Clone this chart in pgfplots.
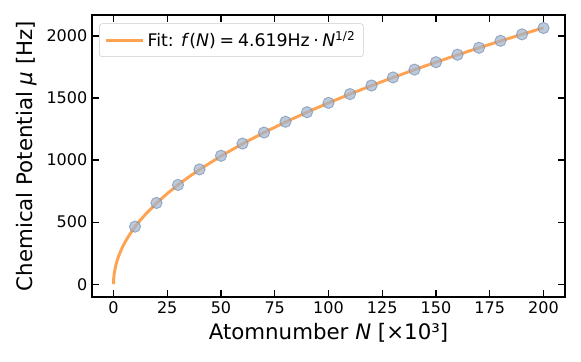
\documentclass[border=0pt]{standalone}
\usepackage{fontspec}
\setmainfont{DejaVu Sans}
\usepackage{pgfplots}
\pgfplotsset{compat=1.18}
\definecolor{fitorange}{RGB}{255,163,82}
\definecolor{ptfill}{RGB}{160,180,206}
\definecolor{ptedge}{RGB}{120,142,175}

\begin{document}
\begin{tikzpicture}
\begin{axis}[
  scale only axis,
  width=354.75pt, height=211.5pt,
  xmin=-10, xmax=210,
  ymin=-103, ymax=2169,
  xtick={0,25,50,75,100,125,150,175,200},
  ytick={0,500,1000,1500,2000},
  /pgf/number format/assume math mode=true,
  /pgf/number format/1000 sep={},
  scaled ticks=false,
  tick align=inside,
  xtick pos=both, ytick pos=both,
  major tick length=5pt,
  minor tick num=0,
  axis line style={line width=1.1pt},
  tick style={line width=0.9pt, black},
  tick label style={font=\fontsize{12}{14}\selectfont},
  label style={font=\fontsize{16}{18}\selectfont},
  xlabel={Atomnumber \textit{N} [×10³]},
  ylabel={Chemical Potential \textit{μ} [Hz]},
  legend style={at={(0.015,0.97)}, anchor=north west,
    draw=black!20, rounded corners=2pt, fill=white,
    font=\fontsize{13}{16}\selectfont, inner sep=4pt},
  legend cell align=left,
  legend image code/.code={\draw[#1] (0pt,0pt) -- (28pt,0pt);},
]
\addplot[only marks, mark=*, mark size=4.2pt,
  mark options={fill=ptfill, draw=ptedge, line width=0.7pt, fill opacity=0.7, draw opacity=0.7},
  forget plot] coordinates {
(10,464) (20,655) (30,800) (40,925) (50,1035) (60,1133) (70,1222)
(80,1309) (90,1386) (100,1461) (110,1532) (120,1601) (130,1666)
(140,1729) (150,1789) (160,1849) (170,1905) (180,1961) (190,2013) (200,2064)
};
\addplot[fitorange, line width=2.2pt, line join=round] coordinates {
(0,0) (0.1,46.2) (0.25,73.0) (0.5,103.3) (1,146.1) (1.5,178.9) (2,206.6)
(3,253.0) (4,292.1) (5,326.6) (6,357.8) (7,386.5) (8,413.1) (10,461.9)
(12,506.0) (15,565.7) (20,653.2) (25,730.4) (30,800.0) (35,864.2)
(40,923.8) (50,1032.8) (60,1131.4) (70,1222.1) (80,1306.5) (90,1385.7)
(100,1460.7) (110,1531.9) (120,1600.1) (130,1665.4) (140,1728.3)
(150,1788.9) (160,1847.6) (170,1904.5) (180,1959.7) (190,2013.4) (200,2065.7)
};
\addlegendentry{Fit: \textit{f}(\textit{N})\hspace{0.22em}=\hspace{0.22em}4.619Hz\hspace{0.2em}·\hspace{0.2em}\textit{N}\textsuperscript{1/2}}
\end{axis}
\path (current axis.south west) ++(-69pt,-48pt) coordinate (bl);
\path (current axis.north east) ++(12pt,11.25pt) coordinate (tr);
\useasboundingbox (bl) rectangle (tr);
\end{tikzpicture}
\end{document}
